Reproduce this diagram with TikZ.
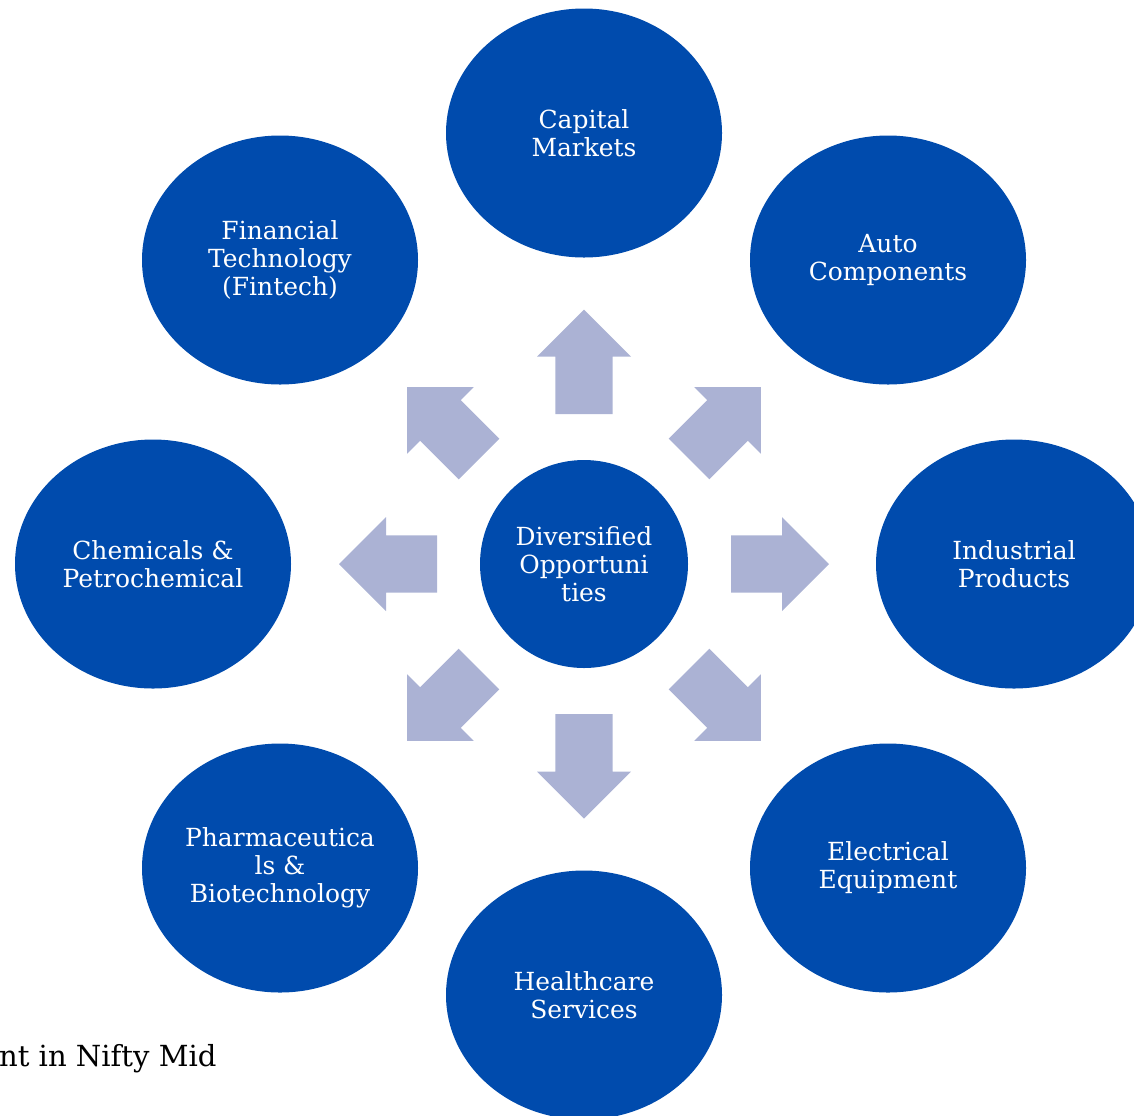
\documentclass[tikz,border=0pt]{standalone}
\usepackage{fontspec}
\setmainfont{DejaVu Serif}
\usetikzlibrary{shapes.geometric}

\definecolor{sectorblue}{RGB}{0,75,173}
\definecolor{arrowlilac}{RGB}{171,178,212}

\tikzset{every picture/.style={line width=0.75pt}}
\tikzset{
  sector/.style={ellipse, fill=sectorblue, text=white, inner sep=0pt, align=center,
    minimum width=207pt, minimum height=186.75pt, font=\fontsize{18.7}{21}\selectfont},
  hub/.style={circle, fill=sectorblue, text=white, inner sep=0pt, align=center,
    minimum size=156pt, font=\fontsize{18.7}{21}\selectfont},
  flowarrow/.style={fill=arrowlilac},
  note/.style={anchor=base east, text=black, inner sep=0pt, font=\fontsize{21.8}{26}\selectfont}
}

\begin{document}
\begin{tikzpicture}[x=0.75pt,y=0.75pt,yscale=-1,xscale=1]
\useasboundingbox (0,0) rectangle (1134,1115);
\clip (0,0) rectangle (1134,1115);

% hub and sectors
\node [hub] (ctr) at (584,564) {Diversified\\Opportuni\\ties};
\node [sector] (cap) at (584,133) {Capital\\Markets};
\node [sector] (fin) at (280,260) {Financial\\Technology\\(Fintech)};
\node [sector] (auto) at (888,260) {Auto\\Components};
\node [sector] (chem) at (153,564) {Chemicals \&\\Petrochemical};
\node [sector] (ind) at (1014,564) {Industrial\\Products};
\node [sector] (pharma) at (280,868) {Pharmaceutica\\ls \&\\Biotechnology};
\node [sector] (elec) at (888,868) {Electrical\\Equipment};
\node [sector] (health) at (584,995) {Healthcare\\Services};

% block arrows round the hub
\foreach \ang/\rs/\rt in {0/147/245, 45/148.5/250, 90/150/254.5, 135/148.5/250,
                          180/147/245, 225/148.5/250, 270/150/254.5, 315/148.5/250}
  \fill [flowarrow, shift={(584,564)}, rotate=\ang]
    (\rs,-28.7) -- (\rt-47,-28.7) -- (\rt-47,-47) -- (\rt,0) -- (\rt-47,47)
    -- (\rt-47,28.7) -- (\rs,28.7) -- cycle;

\node [note] (mid) at (217,1066) {nt in Nifty Mid};

\end{tikzpicture}
\end{document}
